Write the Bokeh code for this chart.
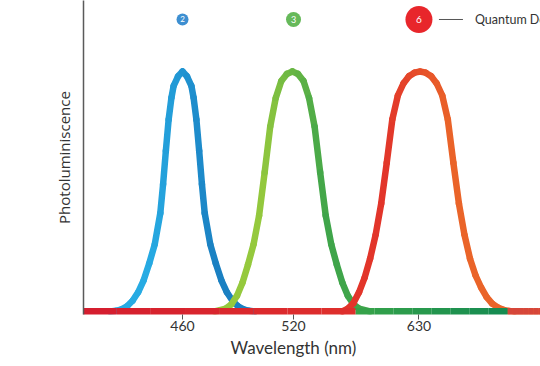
from bokeh.plotting import figure
from bokeh.models import Range1d, FixedTicker, ColumnDataSource, Title
from bokeh.core.properties import value
from bokeh.embed import file_html
from bokeh.resources import INLINE

# ---- data (schematic axis: tick positions are axis units, labels are nm) ----
TICK_POS = [0.0, 1.0, 2.13]
TICK_LABELS = ["460", "520", "630"]
DOT_LABELS = ["2", "3", "6"]
LEGEND_TEXT = "Quantum Dots"
X_TITLE = "Wavelength (nm)"
Y_TITLE = "Photoluminiscence"

BLUE_X = [-0.65, -0.6, -0.55, -0.5, -0.45, -0.4, -0.35, -0.3, -0.25, -0.2, -0.175, -0.15, -0.125, -0.1,
          -0.08, -0.04, 0.0, 0.04, 0.08, 0.1, 0.125, 0.15, 0.175, 0.2, 0.25, 0.3, 0.35, 0.4, 0.45,
          0.5, 0.55, 0.6, 0.65]
BLUE_Y = [0.0, 0.003, 0.009, 0.022, 0.045, 0.08, 0.13, 0.2, 0.28, 0.41, 0.53, 0.67, 0.8, 0.89,
          0.94, 0.98, 1.0, 0.98, 0.94, 0.89, 0.8, 0.67, 0.53, 0.41, 0.28, 0.2, 0.13, 0.08, 0.045,
          0.022, 0.009, 0.003, 0.0]

GREEN_X = [0.29, 0.39, 0.44, 0.49, 0.54, 0.59, 0.64, 0.69, 0.74, 0.79, 0.84, 0.89, 0.94, 0.99,
           1.04, 1.09, 1.14, 1.19, 1.24, 1.29, 1.34, 1.39, 1.44, 1.49, 1.54, 1.59, 1.69]
GREEN_Y = [0.0, 0.012, 0.03, 0.065, 0.12, 0.195, 0.28, 0.4, 0.58, 0.77, 0.89, 0.96, 0.99, 1.0,
           0.99, 0.96, 0.89, 0.77, 0.58, 0.4, 0.28, 0.195, 0.12, 0.065, 0.03, 0.012, 0.0]

RED_X = [1.44, 1.49, 1.54, 1.59, 1.64, 1.69, 1.74, 1.79, 1.84, 1.89, 1.94, 1.99, 2.04, 2.09, 2.14,
         2.19, 2.24, 2.29, 2.34, 2.39, 2.44, 2.49, 2.54, 2.59, 2.64, 2.69, 2.74, 2.79, 2.84, 2.89,
         2.94, 2.99, 3.3]
RED_Y = [0.0, 0.012, 0.035, 0.08, 0.14, 0.22, 0.32, 0.45, 0.62, 0.8, 0.9, 0.95, 0.98, 0.995, 1.0,
         0.995, 0.98, 0.95, 0.9, 0.8, 0.62, 0.45, 0.32, 0.22, 0.15, 0.1, 0.06, 0.033, 0.017, 0.007,
         0.002, 0.0, 0.0]

BASE_BREAKS = [-0.9, 1.56, 2.93, 3.3]

# ---- styles ----
BLUE_COLS = ("#27abe3", "#1a80c2")
GREEN_COLS = ("#95c93d", "#3fa54a")
RED_COLS = ("#e2352a", "#ea6429")
BASE_COLS = [("#d41d2f", "#df302c"), ("#37a449", "#148a52"), ("#d6463a", "#d6463a")]
DOT_COLORS = ["#3d8fd1", "#66b95a", "#e8262b"]
DOT_SIZES = [12, 15, 27]
PX_PER_UNIT = 111.0


def _rgb(h):
    h = h.lstrip("#")
    return [int(h[i:i + 2], 16) for i in (0, 2, 4)]


def lerp(c1, c2, t):
    a, b = _rgb(c1), _rgb(c2)
    return "#%02x%02x%02x" % tuple(int(round(a[i] + (b[i] - a[i]) * t)) for i in range(3))


def gradient_segments(xs, ys, c1, c2, x0, x1):
    sx, sy, cols = [], [], []
    for i in range(len(xs) - 1):
        xm = (xs[i] + xs[i + 1]) / 2
        t = min(max((xm - x0) / (x1 - x0), 0.0), 1.0)
        sx.append([xs[i], xs[i + 1]])
        sy.append([ys[i], ys[i + 1]])
        cols.append(lerp(c1, c2, t))
    return dict(xs=sx, ys=sy, color=cols)


p = figure(width=540, height=366,
           x_range=Range1d(-0.892, 3.225), y_range=Range1d(-0.0125, 1.2958),
           output_backend="svg", toolbar_location=None,
           min_border_left=83, min_border_right=0, min_border_top=0, min_border_bottom=52)
p.outline_line_color = None
p.grid.visible = False
p.background_fill_color = "white"

# y axis
p.yaxis.ticker = FixedTicker(ticks=[])
p.yaxis.major_tick_out = 0
p.yaxis.major_tick_in = 0
p.yaxis.minor_tick_out = 0
p.yaxis.minor_tick_in = 0
p.yaxis.major_label_standoff = 0
p.yaxis.axis_line_color = "#5a5a5a"
p.yaxis.axis_line_width = 1.5
p.yaxis.axis_label = Y_TITLE
p.yaxis.axis_label_text_font = "Open Sans"
p.yaxis.axis_label_text_font_size = "15px"
p.yaxis.axis_label_text_font_style = "normal"
p.yaxis.axis_label_text_color = "#333333"
p.yaxis.axis_label_standoff = 10

# x axis
p.xaxis.ticker = FixedTicker(ticks=TICK_POS)
p.xaxis.major_label_overrides = {t: l for t, l in zip(TICK_POS, TICK_LABELS)}
p.xaxis.axis_line_color = None
p.xaxis.major_tick_out = 5
p.xaxis.major_tick_in = 0
p.xaxis.minor_tick_out = 0
p.xaxis.minor_tick_in = 0
p.xaxis.major_tick_line_color = "#555555"
p.xaxis.major_label_text_font = "Lato"
p.xaxis.major_label_text_font_size = "14px"
p.xaxis.major_label_text_color = "#333333"
p.xaxis.major_label_standoff = 1

# x axis title (left-aligned with an offset so it sits under the middle tick, as in the original)
p.add_layout(Title(text=X_TITLE, align="left", offset=147, standoff=3,
                   text_font="Lato", text_font_size="17px", text_font_style="normal",
                   text_color="#333333"), "below")

# curves
for xs, ys, (c1, c2), ctr in ((BLUE_X, BLUE_Y, BLUE_COLS, TICK_POS[0]),
                              (GREEN_X, GREEN_Y, GREEN_COLS, TICK_POS[1]),
                              (RED_X, RED_Y, RED_COLS, TICK_POS[2])):
    src = ColumnDataSource(gradient_segments(xs, ys, c1, c2, ctr - 0.3, ctr + 0.3))
    p.multi_line(xs="xs", ys="ys", line_color="color", line_width=6.5,
                 line_cap="round", line_join="round", source=src)

# baseline bar
bx, by, bc = [], [], []
for i in range(len(BASE_BREAKS) - 1):
    a, b = BASE_BREAKS[i], BASE_BREAKS[i + 1]
    n = 8
    for k in range(n):
        x0 = a + (b - a) * k / n
        x1 = a + (b - a) * (k + 1) / n
        bx.append([x0, x1])
        by.append([0.0, 0.0])
        bc.append(lerp(BASE_COLS[i][0], BASE_COLS[i][1], (k + 0.5) / n))
p.multi_line(xs="xs", ys="ys", line_color="color", line_width=7, line_cap="butt",
             source=ColumnDataSource(dict(xs=bx, ys=by, color=bc)))

# quantum dot markers
DOT_Y = 1.2167
dots = ColumnDataSource(dict(x=TICK_POS, y=[DOT_Y] * 3, size=DOT_SIZES,
                             color=DOT_COLORS, label=DOT_LABELS,
                             fs=["8px", "9px", "10px"]))
p.scatter(x="x", y="y", size="size", fill_color="color", line_color=None, source=dots)
p.text(x="x", y="y", text="label", text_color="white", text_font=value("Lato"),
       text_font_size="fs", text_align="center", text_baseline="middle", source=dots)

# legend leader line + text
rx = TICK_POS[2]
p.segment(x0=[rx + 20 / PX_PER_UNIT], y0=[DOT_Y], x1=[rx + 44 / PX_PER_UNIT], y1=[DOT_Y],
          line_color="#555555", line_width=1)
p.text(x=[rx + 56 / PX_PER_UNIT], y=[DOT_Y], text=[LEGEND_TEXT], text_color="#333333",
       text_font=value("Lato"), text_font_size="12.5px", text_align="left", text_baseline="middle")

open("out.html", "w").write(file_html(p, INLINE))
